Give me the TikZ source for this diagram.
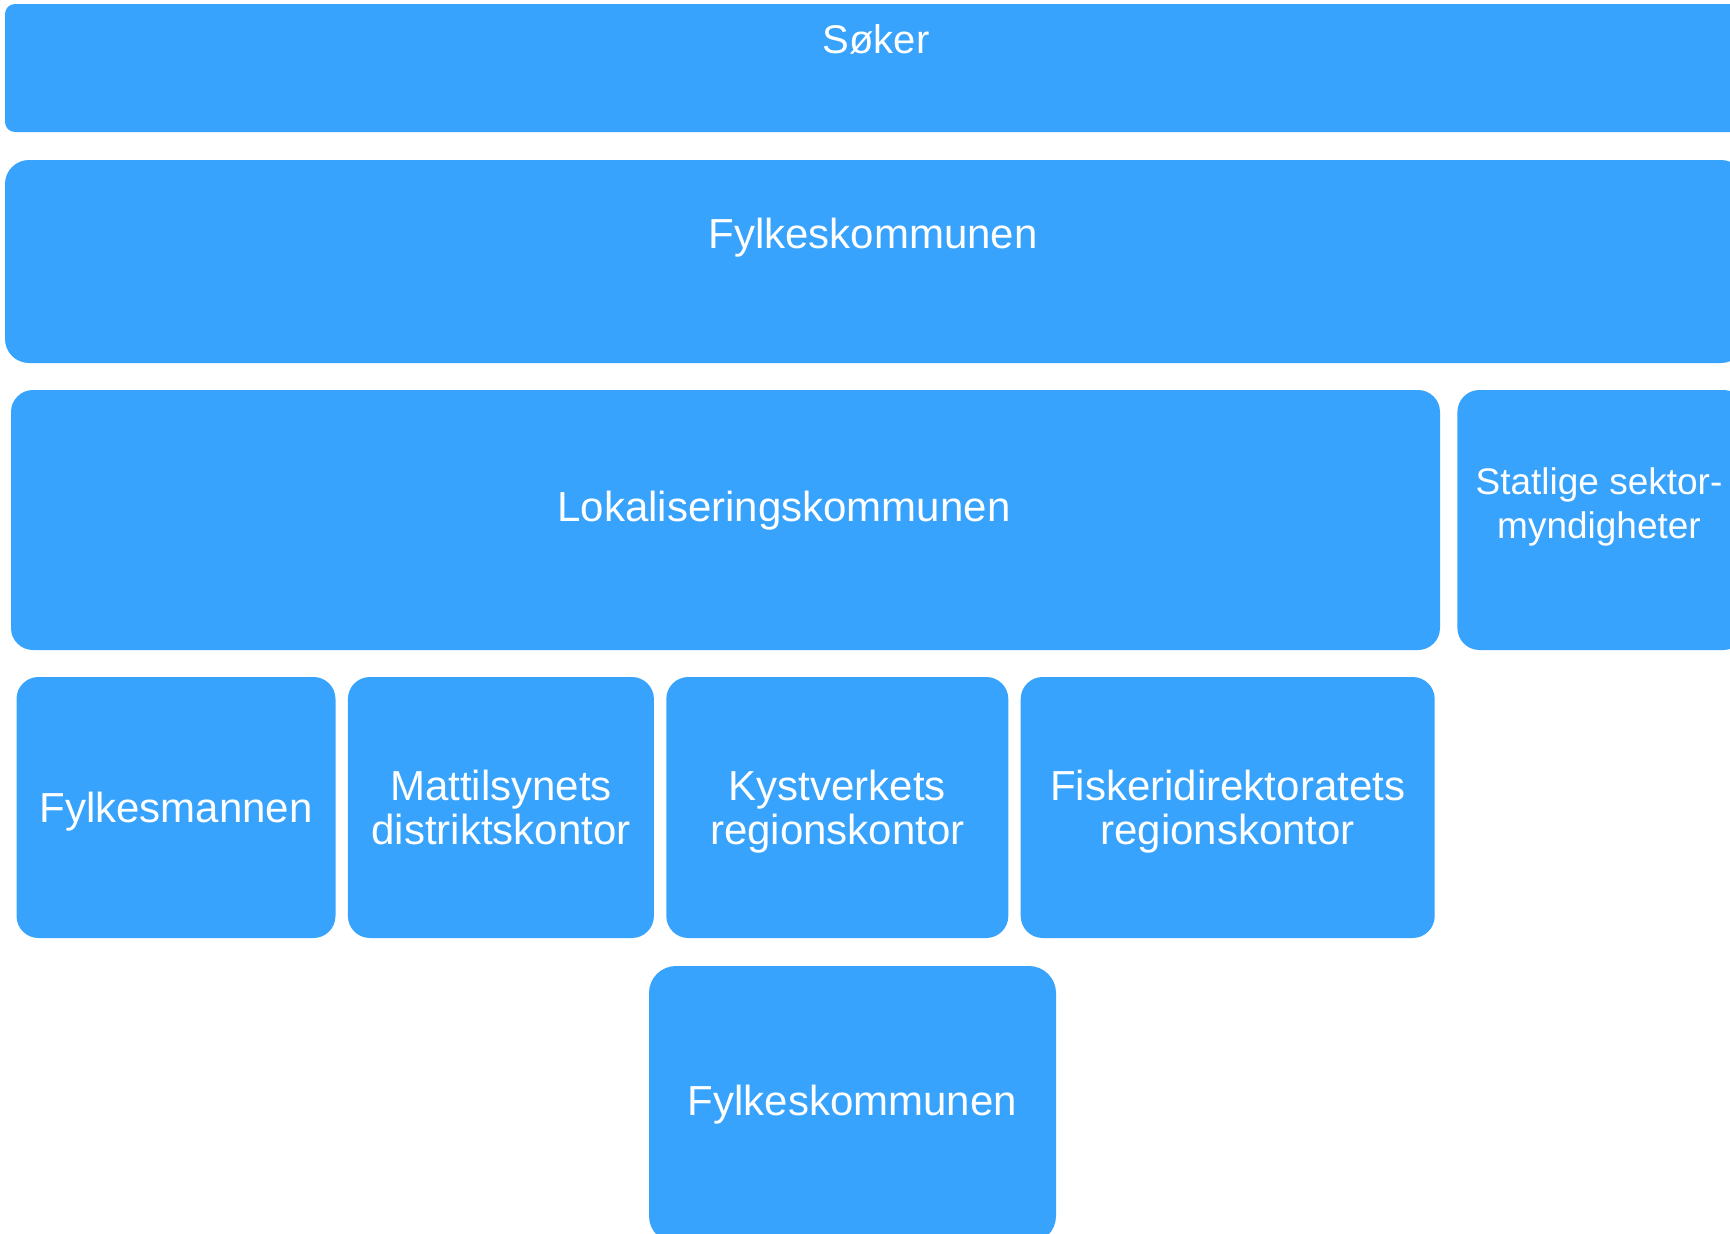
\documentclass[tikz,border=0pt]{standalone}
\usepackage{fontspec}
\setmainfont{Liberation Sans}
\usepackage{xcolor}
\usetikzlibrary{positioning}
\definecolor{boxblue}{RGB}{56,163,252}

\begin{document}
\begin{tikzpicture}[x=1pt,y=-1pt]
	\tikzstyle{common} = [draw=none, text=white, align=center, inner sep=0pt]
	\tikzstyle{block} = [rectangle, rounded corners=22pt, common, fill=boxblue, font=\fontsize{42}{44}\selectfont]
	\tikzstyle{wide} = [block, minimum width=1740pt]
	\tikzstyle{small} = [block, minimum height=261pt, text depth=0pt, node distance=12pt]
	\tikzstyle{caption} = [common, font=\fontsize{42}{44}\selectfont]

	\useasboundingbox (0,0) rectangle (1730,1234);
	\clip (0,0) rectangle (1730,1234);

	% upper rows
	\node[wide, rounded corners=10pt, minimum height=128pt] (soker) at (875,68) {};
	\node[caption, font=\fontsize{40}{44}\selectfont] (sokertxt) at (876,39) {Søker};
	\node[wide, rounded corners=24pt, minimum height=203pt] (fylke) at (875,261.5) {};
	\node[caption] (fylketxt) at (873,237.5) {Fylkeskommunen};
	\node[block, minimum width=1429pt, minimum height=260pt] (lok) at (725.5,520) {};
	\node[caption] (loktxt) at (784,510.5) {Lokaliseringskommunen};
	\node[block, minimum width=288pt, minimum height=260pt, right=17pt of lok] (statlig) {};
	\node[caption, font=\fontsize{37}{44}\selectfont] (statligtxt) at (1599,506.5) {Statlige sektor-\\myndigheter};

	% regional row
	\node[small, minimum width=319pt] (fm) at (176,807.5) {Fylkesmannen};
	\node[small, minimum width=306pt, right=of fm] (mat) {Mattilsynets\\distriktskontor};
	\node[small, minimum width=342pt, right=of mat] (kyst) {Kystverkets\\regionskontor};
	\node[small, minimum width=414pt, right=of kyst] (fisk) {Fiskeridirektoratets\\regionskontor};

	\node[block, rounded corners=27pt, minimum width=407pt, minimum height=277pt] (fylke2) at (852.5,1104.5) {Fylkeskommunen};
\end{tikzpicture}
\end{document}
